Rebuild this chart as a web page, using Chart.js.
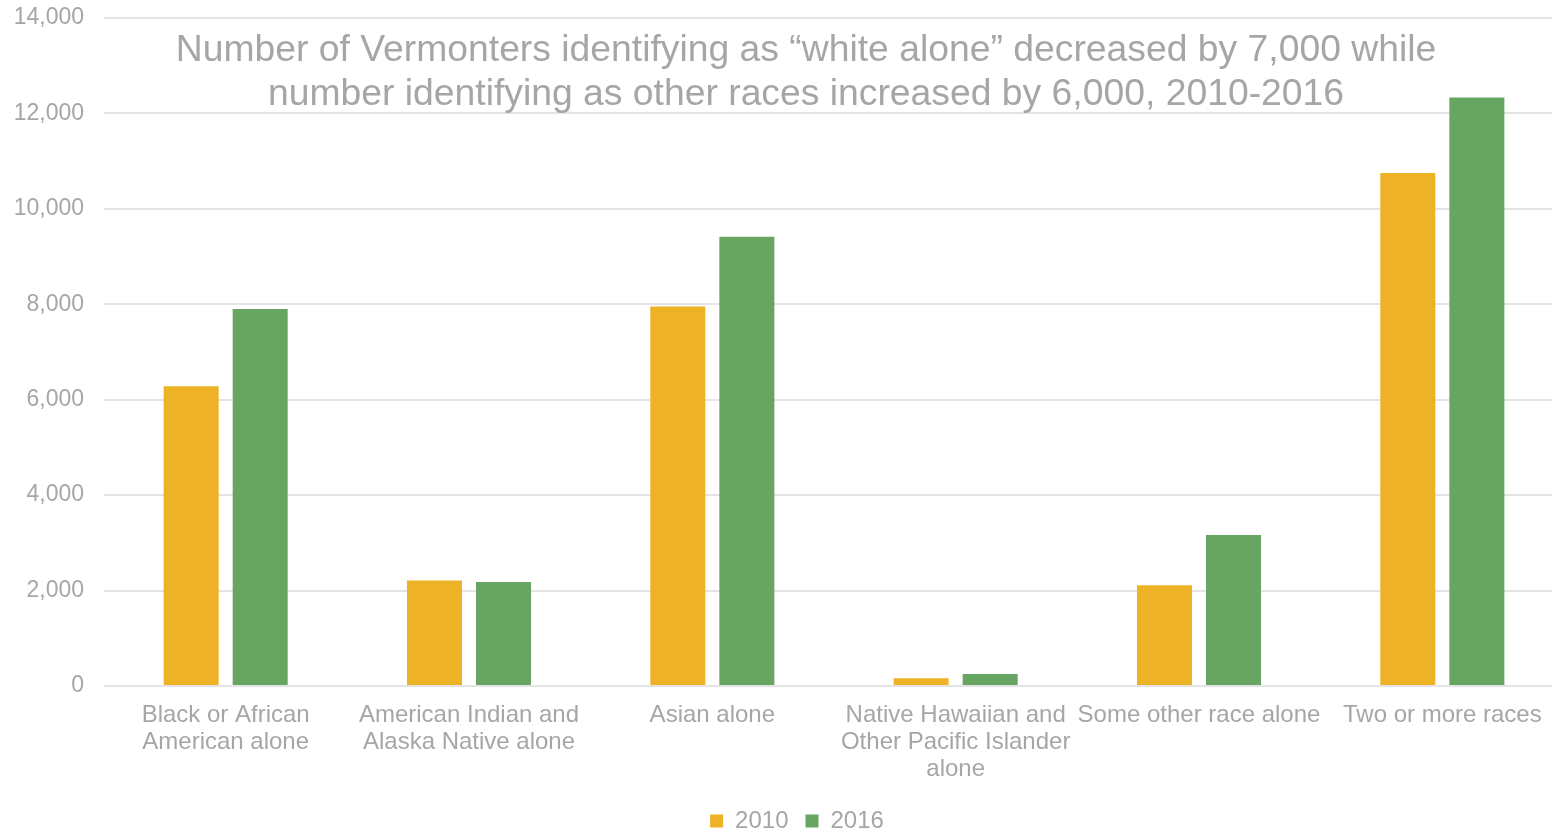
<!DOCTYPE html>
<html>
<head>
<meta charset="utf-8">
<script src="https://cdn.jsdelivr.net/npm/chart.js@4/dist/chart.umd.min.js"></script>
<style>
html,body{margin:0;padding:0;background:#fff;overflow:hidden;}
#wrap{position:relative;width:1552px;height:830px;overflow:hidden;}
#c{position:absolute;left:0;top:-16px;}
#title{position:absolute;left:0;width:1612px;top:26px;text-align:center;font-family:"Liberation Sans",Arial,sans-serif;font-size:37.3px;line-height:44px;color:#a6a6a6;pointer-events:none;white-space:nowrap;}
</style>
</head>
<body>
<div id="wrap">
<canvas id="c" width="1594" height="859"></canvas>
<div id="title">Number of Vermonters identifying as “white alone” decreased by 7,000 while<br>number identifying as other races increased by 6,000, 2010-2016</div>
</div>
<script>
const categories = [
  ["Black or African", "American alone"],
  ["American Indian and", "Alaska Native alone"],
  ["Asian alone"],
  ["Native Hawaiian and", "Other Pacific Islander", "alone"],
  ["Some other race alone"],
  ["Two or more races"]
];
const values2010 = [6280, 2210, 7950, 160, 2110, 10750];
const values2016 = [7900, 2180, 9410, 250, 3165, 12330];
const seriesNames = ["2010", "2016"];

const gray = "#a6a6a6";
const family = "'Liberation Sans', Arial, sans-serif";

new Chart(document.getElementById("c"), {
  type: "bar",
  data: {
    labels: categories,
    datasets: [
      {label: seriesNames[0], data: values2010, backgroundColor: "#EEB227", borderWidth: 0},
      {label: seriesNames[1], data: values2016, backgroundColor: "#67A563", borderWidth: 0}
    ]
  },
  options: {
    responsive: false,
    animation: false,
    devicePixelRatio: 1,
    layout: {padding: 0},
    datasets: {bar: {categoryPercentage: 0.5674, barPercentage: 0.797}},
    plugins: {
      title: {display: false},
      tooltip: {enabled: false},
      legend: {
        position: "bottom",
        labels: {
          color: gray, font: {family: family, size: 24}, boxWidth: 13, boxHeight: 13, padding: 17
        }
      }
    },
    scales: {
      x: {
        afterFit: s => { s.height = 106; },
        grid: {display: false},
        border: {display: false},
        ticks: {color: gray, font: {family: family, size: 24, lineHeight: 1.13}, maxRotation: 0, autoSkip: false, padding: 8}
      },
      y: {
        min: 0, max: 14000,
        afterFit: s => { s.width = 104; },
        grid: {color: "#e4e4e4", lineWidth: 2, drawTicks: false},
        border: {display: false},
        ticks: {
          stepSize: 2000, color: gray, font: {family: family, size: 23}, padding: 20,
          callback: v => v.toLocaleString("en-US")
        }
      },
      yr: {
        position: "right",
        display: true,
        afterFit: s => { s.width = 30; },
        grid: {display: false},
        border: {display: false},
        ticks: {display: false}
      }
    }
  }
});
</script>
</body>
</html>
